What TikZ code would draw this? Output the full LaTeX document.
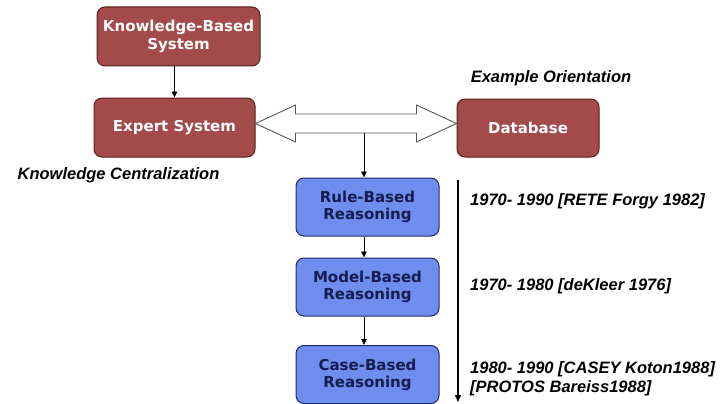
\documentclass[tikz,border=0pt]{standalone}
\usepackage{fontspec}
\setmainfont{Liberation Sans}
\newfontfamily\boxfont{DejaVu Sans}
\usetikzlibrary{arrows.meta,calc}
\definecolor{redfill}{HTML}{A34A4A}
\definecolor{redline}{HTML}{5A1E1E}
\definecolor{bluefill}{HTML}{6F8DEE}
\definecolor{blueline}{HTML}{1E2A66}
\definecolor{bluetext}{HTML}{161C4C}
\definecolor{dblline}{HTML}{555555}
\begin{document}
\begin{tikzpicture}[x=1pt,y=-1pt,
  redbox/.style={draw=redline, fill=redfill, rounded corners=8pt, line width=1pt,
    text=white, font=\boxfont\bfseries\fontsize{15}{17.5}\selectfont, align=center, inner sep=0pt},
  bluebox/.style={draw=blueline, fill=bluefill, rounded corners=8pt, line width=1pt,
    text=bluetext, font=\boxfont\bfseries\fontsize{15}{17}\selectfont, align=center, inner sep=0pt,
    minimum width=143pt, minimum height=58pt},
  lbl/.style={font=\bfseries\itshape\fontsize{16.5}{18}\selectfont, inner sep=0pt},
  conn/.style={line width=0.9pt, -{Triangle[length=6pt,width=5.5pt]}},
  dbl/.style={draw=dblline, fill=white, line width=0.9pt, line join=miter}
]
\useasboundingbox (0,0) rectangle (723,404);

% red boxes
\node[redbox, minimum width=163pt, minimum height=59pt] (kbs) at (178.5,36.5) {Knowledge-Based\\System};
\node[redbox, minimum width=161pt, minimum height=59pt] (expert) at (174.5,127.5) {Expert System};
\node[redbox, minimum width=142pt, minimum height=58pt] (db) at (528,128) {Database};

% blue boxes
\node[bluebox] (rule) at (367.5,207) {Rule-Based\\Reasoning};
\node[bluebox] (model) at (367.5,287) {Model-Based\\Reasoning};
\node[bluebox] (case) at (367.5,374.5) {Case-Based\\Reasoning};

% labels
\node[lbl] (exo) at (551,78) {Example Orientation};
\node[lbl] (kc) at (118.5,175) {Knowledge Centralization};
\node[lbl, anchor=west] (t1) at (470,201.5) {1970- 1990 [RETE Forgy 1982]};
\node[lbl, anchor=west] (t2) at (470,286.5) {1970- 1980 [deKleer 1976]};
\node[lbl, anchor=west] (t3) at (470,369.5) {1980- 1990 [CASEY Koton1988]};
\node[lbl, anchor=west] (t4) at (470,388.5) {[PROTOS Bareiss1988]};

% double arrow between Expert System and Database
\coordinate (tipL) at (expert.east |- 0,123.5);
\coordinate (tipR) at (db.west |- 0,123.5);
\draw[dbl] (tipL) -- ++(40,-18.5) -- ++(0,9) -- ($(tipR)+(-40,-9.5)$) -- ++(0,-9)
  -- (tipR) -- ++(-40,18.5) -- ++(0,-9) -- ($(tipL)+(40,9.5)$) -- ++(0,9) -- cycle;
\coordinate (shaftB) at (364,133);

% connectors
\draw[conn] (kbs.south -| expert.north) -- (expert.north);
\draw[conn] (shaftB) -- (rule.north -| shaftB);
\draw[conn] (rule.south -| shaftB) -- (model.north -| shaftB);
\draw[conn] (model.south -| shaftB) -- (case.north -| shaftB);

% timeline
\coordinate (tlTop) at (458,180);
\coordinate (tlBot) at (458,402);
\draw[line width=1.5pt, -{Triangle[length=7pt,width=6pt]}] (tlTop) -- (tlBot);
\end{tikzpicture}
\end{document}
